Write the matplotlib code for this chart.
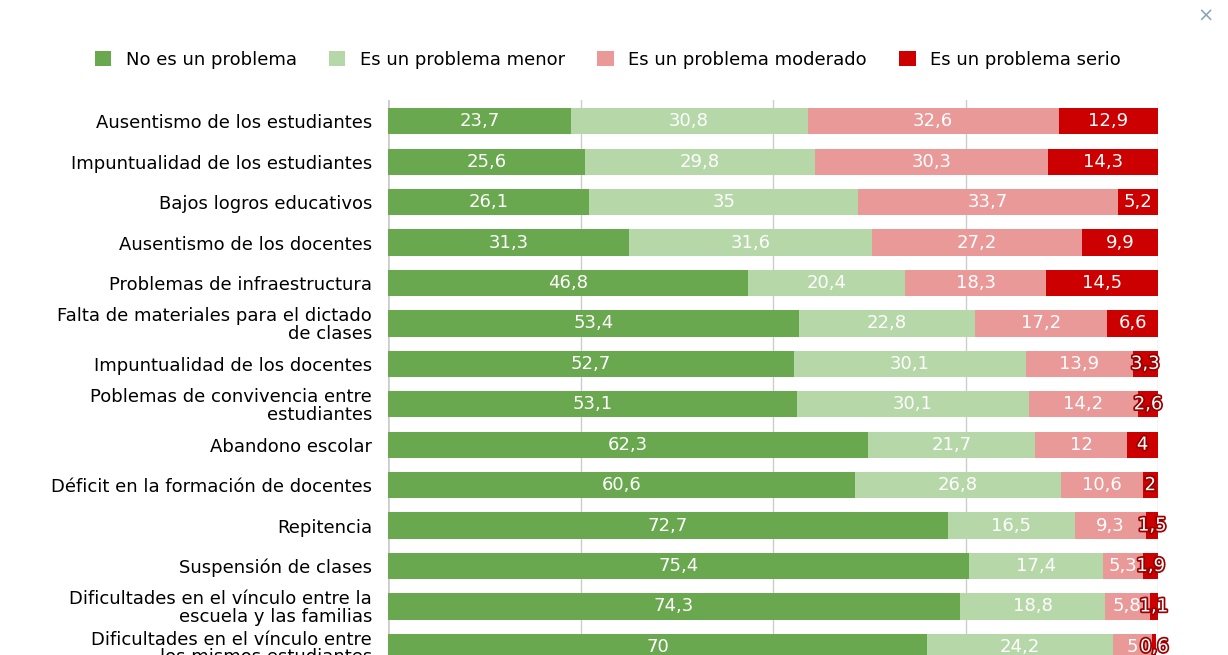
import matplotlib.pyplot as plt
import matplotlib.patheffects as pe
import numpy as np

categories = [
    'Ausentismo de los estudiantes',
    'Impuntualidad de los estudiantes',
    'Bajos logros educativos',
    'Ausentismo de los docentes',
    'Problemas de infraestructura',
    'Falta de materiales para el dictado\nde clases',
    'Impuntualidad de los docentes',
    'Poblemas de convivencia entre\nestudiantes',
    'Abandono escolar',
    'Déficit en la formación de docentes',
    'Repitencia',
    'Suspensión de clases',
    'Dificultades en el vínculo entre la\nescuela y las familias',
    'Dificultades en el vínculo entre\nlos mismos estudiantes',
]
no_problema = [23.7, 25.6, 26.1, 31.3, 46.8, 53.4, 52.7, 53.1, 62.3, 60.6, 72.7, 75.4, 74.3, 70]
menor = [30.8, 29.8, 35, 31.6, 20.4, 22.8, 30.1, 30.1, 21.7, 26.8, 16.5, 17.4, 18.8, 24.2]
moderado = [32.6, 30.3, 33.7, 27.2, 18.3, 17.2, 13.9, 14.2, 12, 10.6, 9.3, 5.3, 5.8, 5.0]
serio = [12.9, 14.3, 5.2, 9.9, 14.5, 6.6, 3.3, 2.6, 4, 2, 1.5, 1.9, 1.1, 0.6]
series_names = ['No es un problema', 'Es un problema menor', 'Es un problema moderado', 'Es un problema serio']
colors = ['#6aa84f', '#b6d7a8', '#ea9999', '#cc0000']

fig = plt.figure(figsize=(12.28, 6.55), dpi=100)
ax = fig.add_axes((0.316, 0.0, 0.627, 0.847))

y = np.arange(len(categories))
left = np.zeros(len(categories))
for name, vals, c in zip(series_names, [no_problema, menor, moderado, serio], colors):
    vals = np.array(vals, dtype=float)
    ax.barh(y, vals, left=left, height=0.65, color=c, label=name, zorder=2)
    for yi, l, v in zip(y, left, vals):
        txt = f'{v:g}'.replace('.', ',')
        t = ax.text(l + v / 2, yi, txt, ha='center', va='center', color='white',
                    fontsize=13, zorder=3)
        if v < 4.5 and c == '#cc0000':
            t.set_path_effects([pe.withStroke(linewidth=2.5, foreground='#990000')])
    left += vals

ax.set_xlim(0, 100)
ax.set_ylim(13.2, -0.52)
ax.set_xticks([0, 25, 50, 75, 100])
ax.tick_params(axis='x', bottom=False, labelbottom=False)
ax.tick_params(axis='y', left=False, labelsize=13, pad=8)
ax.set_yticks(y)
ax.set_yticklabels(categories, linespacing=0.95)
for lbl in ax.get_yticklabels():
    lbl.set_horizontalalignment('right')
    lbl.set_multialignment('right')
ax.grid(axis='x', color='#cccccc', lw=1, zorder=0)
for s in ax.spines.values():
    s.set_visible(False)
ax.axvline(0, color='#333333', lw=1, zorder=1)

fig.legend(loc='center', bbox_to_anchor=(0.495, 0.909), ncol=4, frameon=False,
           fontsize=13, handlelength=0.9, handleheight=0.9, columnspacing=1.8,
           handletextpad=0.8)
fig.text(0.982, 0.975, '×', color='#8aa4b8', fontsize=14, ha='center', va='center')

fig.savefig('out.png')
